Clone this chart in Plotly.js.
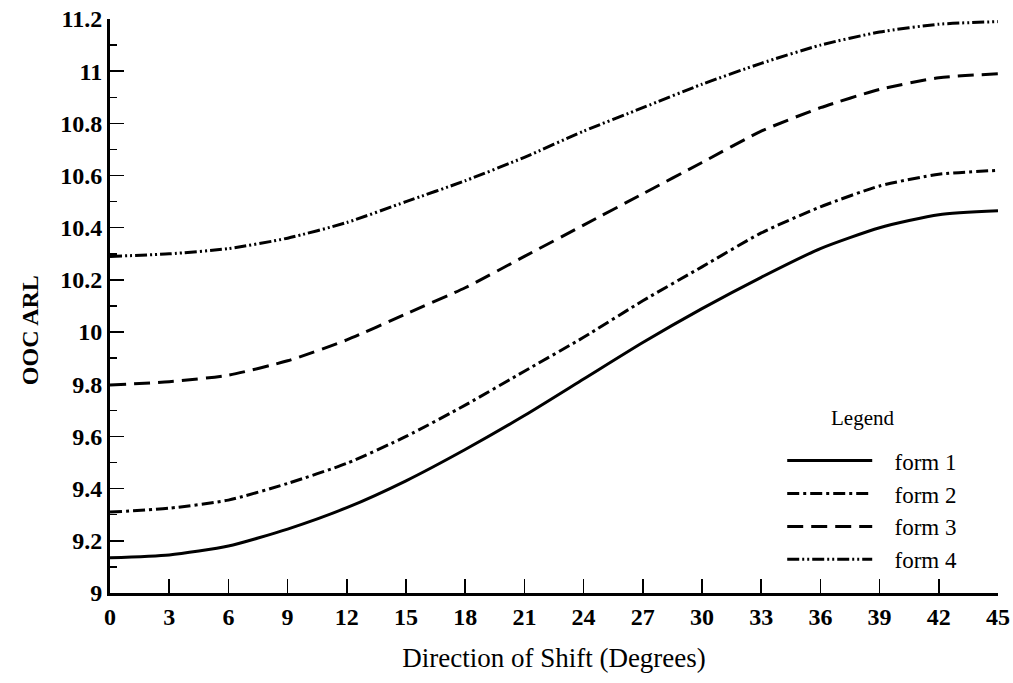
<!DOCTYPE html>
<html>
<head>
<meta charset="utf-8">
<script src="https://cdn.plot.ly/plotly-3.0.1.min.js"></script>
<style>html,body{margin:0;padding:0;background:#fff;}#chart{width:1013px;height:683px;}</style>
</head>
<body>
<div id="chart"></div>
<script>
const degrees = [0, 3, 6, 9, 12, 15, 18, 21, 24, 27, 30, 33, 36, 39, 42, 45];
const form1 = [9.135, 9.146, 9.18, 9.245, 9.327, 9.43, 9.55, 9.68, 9.82, 9.96, 10.09, 10.21, 10.32, 10.40, 10.45, 10.465];
const form2 = [9.31, 9.325, 9.356, 9.42, 9.497, 9.60, 9.72, 9.85, 9.98, 10.12, 10.25, 10.38, 10.48, 10.56, 10.605, 10.62];
const form3 = [9.797, 9.81, 9.835, 9.89, 9.97, 10.07, 10.17, 10.29, 10.41, 10.53, 10.65, 10.77, 10.86, 10.93, 10.975, 10.99];
const form4 = [10.29, 10.30, 10.32, 10.36, 10.42, 10.50, 10.58, 10.67, 10.77, 10.86, 10.95, 11.03, 11.10, 11.15, 11.18, 11.19];
const seriesNames = ["form 1", "form 2", "form 3", "form 4"];
const xTicks = [0, 3, 6, 9, 12, 15, 18, 21, 24, 27, 30, 33, 36, 39, 42, 45];

const dashes = ["solid", "12px,4px,3px,4px", "16px,8px", "12px,3px,2px,3px,2px,3px"];
const allSeries = [form1, form2, form3, form4];
const font = '"Liberation Serif", "Times New Roman", serif';
const pad = "\u00a0\u00a0\u00a0";

const traces = allSeries.map((ys, i) => ({
  x: degrees, y: ys, name: pad + seriesNames[i], type: "scatter", mode: "lines",
  line: {color: "#000", width: 3, dash: dashes[i], shape: "spline", smoothing: 0.6}
}));

const layout = {
  width: 1013, height: 683,
  margin: {l: 110, r: 15, t: 19, b: 90},
  paper_bgcolor: "#fff", plot_bgcolor: "#fff",
  font: {family: font, color: "#000"},
  showlegend: true,
  legend: {
    x: 0.757, y: 0.268, xanchor: "left", yanchor: "top",
    bgcolor: "rgba(0,0,0,0)", itemwidth: 85,
    font: {family: font, size: 23, color: "#000"},
    tracegroupgap: 0
  },
  xaxis: {
    range: [0, 45], tickmode: "array", tickvals: xTicks, ticktext: xTicks.map(String),
    ticks: "inside", ticklen: 14, tickwidth: 1.5, tickcolor: "#000",
    showline: true, linecolor: "#000", linewidth: 3, showgrid: false, zeroline: false,
    tickfont: {family: font, size: 24, color: "#000", weight: "bold"},
    title: {text: "Direction of Shift (Degrees)", font: {family: font, size: 27, color: "#000"}, standoff: 20},
    fixedrange: true
  },
  yaxis: {
    range: [9, 11.2], dtick: 0.2, tick0: 9,
    ticks: "inside", ticklen: 14, tickwidth: 1.5, tickcolor: "#000",
    minor: {dtick: 0.1, ticks: "inside", ticklen: 7, tickwidth: 1.5, tickcolor: "#000"},
    showline: true, linecolor: "#000", linewidth: 3, showgrid: false, zeroline: false,
    tickfont: {family: font, size: 24, color: "#000", weight: "bold"},
    fixedrange: true
  },
  annotations: [{
    text: "OOC ARL", xref: "paper", yref: "paper", x: -0.09, y: 0.458,
    xanchor: "center", yanchor: "middle", textangle: -90, showarrow: false,
    font: {family: font, size: 24, color: "#000", weight: "bold"}
  }, {
    text: "Legend", xref: "paper", yref: "paper", x: 0.847, y: 0.305,
    xanchor: "center", yanchor: "middle", showarrow: false,
    font: {family: font, size: 21, color: "#000"}
  }]
};

Plotly.newPlot("chart", traces, layout, {displayModeBar: false, staticPlot: true});
</script>
</body>
</html>
